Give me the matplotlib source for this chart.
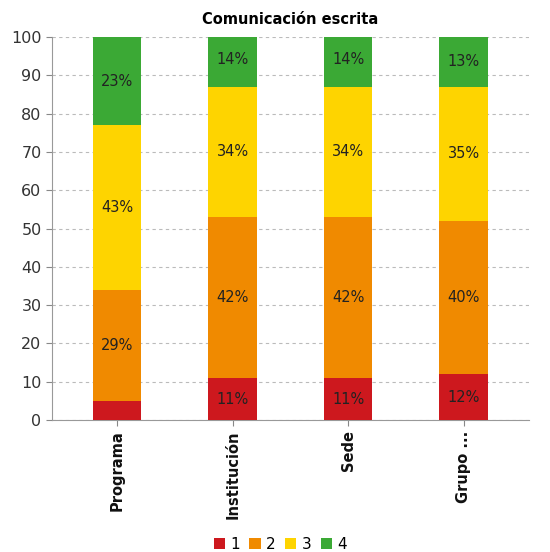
import matplotlib
matplotlib.use("Agg")
import matplotlib.pyplot as plt
import numpy as np

categories = ["Programa", "Institución", "Sede", "Grupo ..."]
levels = ["1", "2", "3", "4"]
level1 = [5, 11, 11, 12]
level2 = [29, 42, 42, 40]
level3 = [43, 34, 34, 35]
level4 = [23, 14, 14, 13]
colors = ["#CD181E", "#F08A00", "#FED400", "#3BA935"]

series = [level1, level2, level3, level4]

fig = plt.figure(figsize=(5.5, 5.52), dpi=100)
ax = fig.add_axes([0.0945, 0.239, 0.867, 0.694])

x = np.arange(len(categories))
bottom = np.zeros(len(categories))
width = 0.42
for vals, col, lab in zip(series, colors, levels):
    vals = np.array(vals, dtype=float)
    ax.bar(x, vals, width, bottom=bottom, color=col, label=lab,
           edgecolor="none", zorder=3)
    for xi, b, v in zip(x, bottom, vals):
        if v >= 8:
            ax.text(xi, b + v / 2, f"{int(v)}%", ha="center", va="center",
                    fontsize=10.5, color="#222222", zorder=4)
    bottom += vals

ax.set_xlim(-0.565, 3.565)
ax.set_ylim(0, 100)
ax.set_yticks(np.arange(0, 101, 10))
ax.tick_params(axis="y", labelsize=11.5, colors="#888888", labelcolor="#333333", length=4)
ax.tick_params(axis="x", length=4, colors="#888888", labelcolor="#111111")
ax.set_xticks(x)
ax.set_xticklabels(categories, rotation=90, fontsize=10.5, fontweight="bold")
ax.yaxis.grid(True, linestyle=(0, (3, 3)), color="#BBBBBB", linewidth=0.8, zorder=0)
for s in ["top", "right"]:
    ax.spines[s].set_visible(False)
for s in ["left", "bottom"]:
    ax.spines[s].set_color("#999999")

ax.set_title("Comunicación escrita", fontsize=10.5, fontweight="bold", pad=9)

leg = fig.legend(loc="lower center", bbox_to_anchor=(0.51, -0.025), ncol=4, frameon=False,
                 fontsize=11, handlelength=0.75, handleheight=0.75, handletextpad=0.35,
                 columnspacing=0.6)

fig.savefig("out.png", dpi=100)
